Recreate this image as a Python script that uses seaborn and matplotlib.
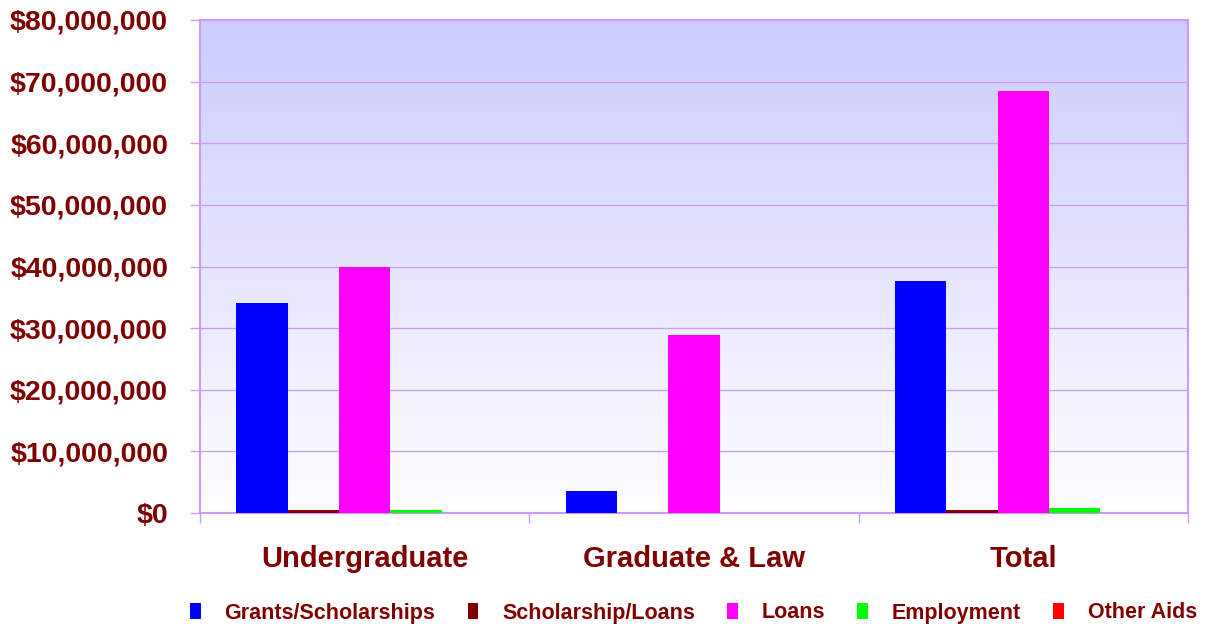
import numpy as np
import pandas as pd
import matplotlib
matplotlib.use("Agg")
import matplotlib.pyplot as plt
import seaborn as sns
from matplotlib.colors import LinearSegmentedColormap
from matplotlib.ticker import FuncFormatter

categories = ["Undergraduate", "Graduate & Law", "Total"]
series = ["Grants/Scholarships", "Scholarship/Loans", "Loans", "Employment", "Other Aids"]
grants = [34.1e6, 3.6e6, 37.7e6]
schol_loans = [0.45e6, 0.0, 0.45e6]
loans = [40.0e6, 28.9e6, 68.5e6]
employment = [0.5e6, 0.0, 0.75e6]
other_aids = [0.0, 0.0, 0.0]
colors = ["#0000ff", "#800000", "#ff00ff", "#00ff00", "#ff0000"]

rows = []
for s, vals in zip(series, [grants, schol_loans, loans, employment, other_aids]):
    for c, v in zip(categories, vals):
        rows.append({"Category": c, "Series": s, "Value": v})
df = pd.DataFrame(rows)

sns.set_theme(style="white")
plt.rcParams['font.family'] = ['Liberation Sans', 'DejaVu Sans']

fig = plt.figure(figsize=(12.09, 6.27), dpi=100)
ax = fig.add_axes([200/1209, 1-513/627, 988/1209, 493/627])

# gradient background
cmap = LinearSegmentedColormap.from_list("bg", ["#ffffff", "#ccccff"])
grad = np.linspace(0, 1, 256).reshape(-1, 1)
ax.imshow(grad, cmap=cmap, aspect="auto", origin="lower",
          extent=[-0.5, 2.5, 0, 80e6], zorder=0)

sns.barplot(data=df, x="Category", y="Value", hue="Series", order=categories,
            hue_order=series, palette=colors, saturation=1, width=0.78,
            ax=ax, zorder=3, legend=True, edgecolor="none", linewidth=0)

ax.set_xlim(-0.5, 2.5)
ax.set_ylim(0, 80e6)
ax.set_yticks(np.arange(0, 80e6 + 1, 10e6))
ax.yaxis.set_major_formatter(FuncFormatter(lambda v, p: "${:,.0f}".format(v)))
ax.grid(axis="y", color="#cc99ff", linewidth=0.9, zorder=1)
ax.set_axisbelow(False)
for gl in ax.get_ygridlines():
    gl.set_zorder(1)
ax.set_xlabel("")
ax.set_ylabel("")

for sp in ax.spines.values():
    sp.set_color("#cc99ff")
    sp.set_linewidth(1.5)

lab_color = "#800000"
ax.tick_params(axis="y", left=True, length=7, width=1, color="#cc99ff", pad=16,
               labelsize=20.5, labelcolor=lab_color)
for t in ax.get_yticklabels():
    t.set_fontweight("bold")
ax.tick_params(axis="x", bottom=False, length=0, pad=23, labelsize=21, labelcolor=lab_color)
for t in ax.get_xticklabels():
    t.set_fontweight("bold")
ax.set_xticks([-0.5, 0.5, 1.5, 2.5], minor=True)
ax.tick_params(axis="x", which="minor", bottom=True, length=7, width=1, color="#cc99ff")

handles, labels = ax.get_legend_handles_labels()
ax.get_legend().remove()
leg = fig.legend(handles, labels, loc="center", bbox_to_anchor=(0.5736, 1-613/627), ncol=5,
                 frameon=False, fontsize=15.5, handlelength=0.5, handleheight=0.8,
                 handletextpad=1.1, columnspacing=1.5)
for t in leg.get_texts():
    t.set_color(lab_color)
    t.set_fontweight("bold")

fig.savefig("out.png", dpi=100)
